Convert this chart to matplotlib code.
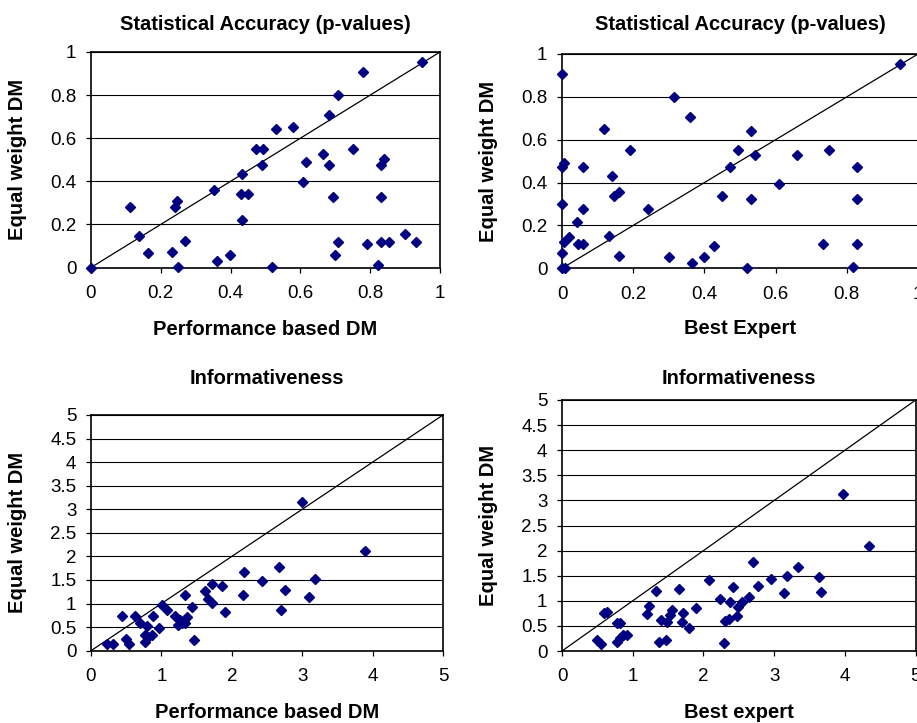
import matplotlib
matplotlib.use("Agg")
import matplotlib.pyplot as plt
import numpy as np

plt.rcParams['font.family'] = ['Liberation Sans', 'DejaVu Sans']

# ---- Data: Statistical accuracy, Performance based DM vs Equal weight DM
sa_pb_x = [0.0, 0.112, 0.138, 0.162, 0.232, 0.241, 0.245, 0.249, 0.269, 0.352, 0.360,
           0.399, 0.432, 0.430, 0.451, 0.432, 0.472, 0.492, 0.491, 0.519, 0.530, 0.580,
           0.607, 0.617, 0.664, 0.681, 0.681, 0.692, 0.700, 0.709, 0.709, 0.752, 0.778,
           0.792, 0.821, 0.830, 0.840, 0.830, 0.830, 0.854, 0.900, 0.931, 0.949]
sa_pb_y = [0.0, 0.283, 0.147, 0.067, 0.073, 0.283, 0.307, 0.003, 0.124, 0.358, 0.028,
           0.056, 0.433, 0.342, 0.342, 0.221, 0.551, 0.551, 0.477, 0.003, 0.642, 0.650,
           0.395, 0.491, 0.528, 0.477, 0.709, 0.327, 0.056, 0.799, 0.118, 0.551, 0.906,
           0.110, 0.011, 0.477, 0.503, 0.327, 0.118, 0.118, 0.155, 0.118, 0.952]

# ---- Data: Statistical accuracy, Best expert vs Equal weight DM
sa_be_x = [0.0, 0.0, 0.006, 0.0, 0.0, 0.0, 0.008, 0.006, 0.019, 0.041, 0.046, 0.060,
           0.058, 0.058, 0.119, 0.133, 0.140, 0.146, 0.160, 0.160, 0.191, 0.241, 0.301,
           0.315, 0.360, 0.365, 0.399, 0.426, 0.450, 0.473, 0.493, 0.520, 0.531, 0.531,
           0.542, 0.609, 0.659, 0.732, 0.751, 0.818, 0.828, 0.828, 0.828, 0.949]
sa_be_y = [0.905, 0.474, 0.490, 0.302, 0.070, 0.0, 0.0, 0.124, 0.145, 0.218, 0.114, 0.114,
           0.474, 0.278, 0.649, 0.151, 0.431, 0.339, 0.355, 0.059, 0.551, 0.278, 0.051,
           0.798, 0.708, 0.023, 0.051, 0.106, 0.339, 0.474, 0.551, 0.0, 0.641, 0.323,
           0.527, 0.392, 0.527, 0.114, 0.551, 0.008, 0.474, 0.323, 0.114, 0.952]

# ---- Data: Informativeness, Performance based DM vs Equal weight DM
inf_pb_x = [0.222, 0.317, 0.435, 0.497, 0.539, 0.620, 0.695, 0.766, 0.790, 0.766, 0.814,
            0.861, 0.875, 0.965, 1.003, 1.083, 1.192, 1.239, 1.263, 1.287, 1.334, 1.367,
            1.339, 1.429, 1.462, 1.618, 1.656, 1.712, 1.712, 1.864, 1.902, 2.152, 2.176,
            2.427, 2.673, 2.701, 2.758, 2.994, 3.094, 3.179, 3.898]
inf_pb_y = [0.134, 0.134, 0.735, 0.240, 0.141, 0.735, 0.594, 0.191, 0.523, 0.332, 0.297,
            0.332, 0.735, 0.474, 0.976, 0.863, 0.735, 0.545, 0.651, 0.594, 0.594, 0.721,
            1.188, 0.934, 0.226, 1.273, 1.089, 1.004, 1.414, 1.372, 0.813, 1.188, 1.669,
            1.485, 1.782, 0.856, 1.287, 3.147, 1.146, 1.520, 2.115]

# ---- Data: Informativeness, Best expert vs Equal weight DM
inf_be_x = [0.490, 0.546, 0.598, 0.631, 0.772, 0.820, 0.772, 0.820, 0.867, 0.923, 1.206,
            1.229, 1.324, 1.375, 1.394, 1.470, 1.479, 1.526, 1.554, 1.649, 1.700, 1.715,
            1.799, 1.894, 2.073, 2.237, 2.289, 2.308, 2.365, 2.374, 2.412, 2.468, 2.482,
            2.544, 2.638, 2.694, 2.770, 2.958, 3.137, 3.179, 3.330, 3.627, 3.660, 3.966,
            4.343]
inf_be_y = [0.219, 0.139, 0.764, 0.784, 0.564, 0.564, 0.173, 0.252, 0.319, 0.319, 0.737,
            0.896, 1.195, 0.186, 0.618, 0.219, 0.571, 0.717, 0.817, 1.228, 0.571, 0.764,
            0.465, 0.850, 1.414, 1.029, 0.153, 0.598, 0.631, 0.976, 1.268, 0.697, 0.883,
            0.969, 1.082, 1.780, 1.295, 1.434, 1.162, 1.501, 1.680, 1.467, 1.182, 3.127,
            2.092]

sa_ticks = [0, 0.2, 0.4, 0.6, 0.8, 1]
sa_ticklabels = ["0", "0.2", "0.4", "0.6", "0.8", "1"]
inf_yticks = [0, 0.5, 1, 1.5, 2, 2.5, 3, 3.5, 4, 4.5, 5]
inf_yticklabels = ["0", "0.5", "1", "1.5", "2", "2.5", "3", "3.5", "4", "4.5", "5"]
inf_xticks = [0, 1, 2, 3, 4, 5]
inf_xticklabels = ["0", "1", "2", "3", "4", "5"]

titles = ["Statistical Accuracy (p-values)", "Statistical Accuracy (p-values)",
          "Informativeness", "Informativeness"]
xlabels = ["Performance based DM", "Best Expert", "Performance based DM", "Best expert"]
ylabel = "Equal weight DM"

W, H = 917, 723
fig = plt.figure(figsize=(W / 100, H / 100), dpi=100)

# pixel boxes: left, right, top, bottom
boxes = [(91, 440, 52, 267.5), (562, 918, 54, 268.3),
         (91, 443, 415, 650.7), (562, 915.7, 400, 651)]

MARKER = '#000080'

def px_axes(l, r, t, b):
    return fig.add_axes([l / W, 1 - b / H, (r - l) / W, (b - t) / H])

panels = [
    (sa_pb_x, sa_pb_y, 1, sa_ticks, sa_ticklabels, sa_ticks, sa_ticklabels),
    (sa_be_x, sa_be_y, 1, sa_ticks, sa_ticklabels, sa_ticks, sa_ticklabels),
    (inf_pb_x, inf_pb_y, 5, inf_xticks, inf_xticklabels, inf_yticks, inf_yticklabels),
    (inf_be_x, inf_be_y, 5, inf_xticks, inf_xticklabels, inf_yticks, inf_yticklabels),
]

title_y = [25, 25, 379, 378]
xlabel_y = [330, 329, 713, 712]
ylabel_x = [18, 488, 18, 488]

for i, (box, (xs, ys, lim, xt, xtl, yt, ytl)) in enumerate(zip(boxes, panels)):
    l, r, t, b = box
    ax = px_axes(l, r, t, b)
    ax.set_xlim(0, lim)
    ax.set_ylim(0, lim)
    ax.set_yticks(yt)
    ax.set_yticklabels(ytl)
    ax.set_xticks(xt)
    ax.set_xticklabels(xtl)
    ax.yaxis.grid(True, color='black', linewidth=0.8)
    ax.set_axisbelow(True)
    ax.plot([0, lim], [0, lim], color='black', linewidth=0.9, zorder=2)
    ms = 5.2 if i < 2 else 5.6
    ax.plot(xs, ys, linestyle='none', marker='D', markersize=ms,
            color=MARKER, markeredgecolor=MARKER, zorder=3, clip_on=False)
    for s in ax.spines.values():
        s.set_linewidth(1.2)
        s.set_color('black')
    ax.tick_params(axis='both', direction='out', length=3.5, width=0.9,
                   labelsize=13.5, colors='black')
    ax.tick_params(axis='x', pad=9)
    ax.tick_params(axis='y', pad=7)
    cx = (l + r) / 2
    fig.text(cx / W, 1 - title_y[i] / H, titles[i], ha='center', va='center',
             fontsize=14.5, fontweight='bold')
    fig.text(cx / W, 1 - xlabel_y[i] / H, xlabels[i], ha='center', va='center',
             fontsize=14.5, fontweight='bold')
    fig.text(ylabel_x[i] / W, 1 - ((t + b) / 2) / H, ylabel, ha='center', va='center',
             rotation=90, fontsize=14.5, fontweight='bold')

fig.savefig('out.png', dpi=100)
